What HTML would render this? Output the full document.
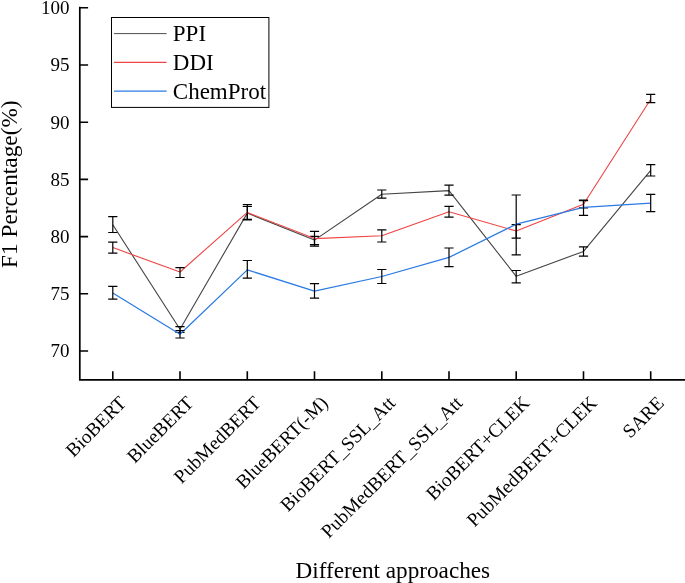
<!DOCTYPE html>
<html><head><meta charset="utf-8"><style>
html,body{margin:0;padding:0;background:#fff;}
svg{display:block;will-change:transform;opacity:0.999;font-family:"Liberation Serif",serif;}
</style></head><body>
<svg width="685" height="583" viewBox="0 0 685 583">
<rect width="685" height="583" fill="#fff"/>

<polyline points="112.8,224.8 180.0,329.2 247.3,213.1 314.5,240.1 381.8,194.3 449.0,190.6 516.2,276.3 583.5,251.4 650.7,170.4" fill="none" stroke="#444444" stroke-width="1.1" stroke-linejoin="round"/>
<path d="M112.8 216.6V232.5M108.2 216.6h9.2M108.2 232.5h9.2M180.0 326.6V332.4M175.4 326.6h9.2M175.4 332.4h9.2M247.3 206.4V219.8M242.7 206.4h9.2M242.7 219.8h9.2M314.5 236.3V244.6M309.9 236.3h9.2M309.9 244.6h9.2M381.8 190.0V198.2M377.2 190.0h9.2M377.2 198.2h9.2M449.0 185.2V195.1M444.4 185.2h9.2M444.4 195.1h9.2M516.2 270.5V282.8M511.6 270.5h9.2M511.6 282.8h9.2M583.5 246.8V256.1M578.9 246.8h9.2M578.9 256.1h9.2M650.7 164.7V176.0M646.1 164.7h9.2M646.1 176.0h9.2" fill="none" stroke="#000" stroke-width="1.2"/>
<polyline points="112.8,247.6 180.0,272.0 247.3,212.4 314.5,238.6 381.8,235.8 449.0,211.8 516.2,231.0 583.5,204.3 650.7,99.2" fill="none" stroke="#ee4444" stroke-width="1.1" stroke-linejoin="round"/>
<path d="M112.8 242.1V253.1M108.2 242.1h9.2M108.2 253.1h9.2M180.0 267.6V277.5M175.4 267.6h9.2M175.4 277.5h9.2M247.3 204.5V219.4M242.7 204.5h9.2M242.7 219.4h9.2M314.5 231.4V246.1M309.9 231.4h9.2M309.9 246.1h9.2M381.8 229.9V242.0M377.2 229.9h9.2M377.2 242.0h9.2M449.0 206.4V217.1M444.4 206.4h9.2M444.4 217.1h9.2M516.2 224.6V238.2M511.6 224.6h9.2M511.6 238.2h9.2M583.5 200.0V207.8M578.9 200.0h9.2M578.9 207.8h9.2M650.7 94.4V102.6M646.1 94.4h9.2M646.1 102.6h9.2" fill="none" stroke="#000" stroke-width="1.2"/>
<polyline points="112.8,293.0 180.0,334.2 247.3,269.9 314.5,291.2 381.8,276.5 449.0,257.4 516.2,224.2 583.5,207.4 650.7,203.1" fill="none" stroke="#2a7ae4" stroke-width="1.25" stroke-linejoin="round"/>
<path d="M112.8 286.3V299.2M108.2 286.3h9.2M108.2 299.2h9.2M180.0 330.5V338.0M175.4 330.5h9.2M175.4 338.0h9.2M247.3 260.5V278.2M242.7 260.5h9.2M242.7 278.2h9.2M314.5 283.7V298.2M309.9 283.7h9.2M309.9 298.2h9.2M381.8 269.5V283.5M377.2 269.5h9.2M377.2 283.5h9.2M449.0 248.0V266.7M444.4 248.0h9.2M444.4 266.7h9.2M516.2 195.0V254.9M511.6 195.0h9.2M511.6 254.9h9.2M583.5 200.6V215.4M578.9 200.6h9.2M578.9 215.4h9.2M650.7 194.4V211.7M646.1 194.4h9.2M646.1 211.7h9.2" fill="none" stroke="#000" stroke-width="1.2"/>
<path d="M79.8 6.8V380.6M79 379.8H685" fill="none" stroke="#000" stroke-width="1.7"/>
<path d="M79.8 351.0h8.3M79.8 293.8h8.3M79.8 236.6h8.3M79.8 179.4h8.3M79.8 122.2h8.3M79.8 65.0h8.3M79.8 7.8h8.3M112.8 379.8v-8.5M180.0 379.8v-8.5M247.3 379.8v-8.5M314.5 379.8v-8.5M381.8 379.8v-8.5M449.0 379.8v-8.5M516.2 379.8v-8.5M583.5 379.8v-8.5M650.7 379.8v-8.5" fill="none" stroke="#000" stroke-width="1.6"/>
<text x="69.5" y="357.3" font-size="19" text-anchor="end">70</text>
<text x="69.5" y="300.1" font-size="19" text-anchor="end">75</text>
<text x="69.5" y="242.9" font-size="19" text-anchor="end">80</text>
<text x="69.5" y="185.7" font-size="19" text-anchor="end">85</text>
<text x="69.5" y="128.5" font-size="19" text-anchor="end">90</text>
<text x="69.5" y="71.3" font-size="19" text-anchor="end">95</text>
<text x="69.5" y="13.6" font-size="19" text-anchor="end">100</text>
<text transform="translate(127.3,404.2) rotate(-45)" font-size="19.3" text-anchor="end">BioBERT</text>
<text transform="translate(194.5,404.2) rotate(-45)" font-size="19.3" text-anchor="end">BlueBERT</text>
<text transform="translate(261.8,404.2) rotate(-45)" font-size="19.3" text-anchor="end">PubMedBERT</text>
<text transform="translate(329.0,404.2) rotate(-45)" font-size="19.3" text-anchor="end">BlueBERT(-M)</text>
<text transform="translate(396.3,404.2) rotate(-45)" font-size="19.3" text-anchor="end">BioBERT_SSL_Att</text>
<text transform="translate(463.5,404.2) rotate(-45)" font-size="19.3" text-anchor="end">PubMedBERT_SSL_Att</text>
<text transform="translate(530.7,404.2) rotate(-45)" font-size="19.3" text-anchor="end">BioBERT+CLEK</text>
<text transform="translate(598.0,404.2) rotate(-45)" font-size="19.3" text-anchor="end">PubMedBERT+CLEK</text>
<text transform="translate(665.2,404.2) rotate(-45)" font-size="19.3" text-anchor="end">SARE</text>
<rect x="111.5" y="17.5" width="157.4" height="89.9" fill="#fff" stroke="#000" stroke-width="1"/>
<path d="M114 33.6H166.6" stroke="#444444" stroke-width="0.95"/>
<text x="172.8" y="41.2" font-size="23">PPI</text>
<path d="M114 62.4H166.6" stroke="#ee4444" stroke-width="1.2"/>
<text x="172.8" y="70.0" font-size="23">DDI</text>
<path d="M114 91.1H166.6" stroke="#2a7ae4" stroke-width="1.4"/>
<text x="172.8" y="98.7" font-size="23">ChemProt</text>
<text x="392.8" y="577.8" font-size="23.2" text-anchor="middle">Different approaches</text>
<text transform="translate(17,184.2) rotate(-90)" font-size="23.3" text-anchor="middle">F1 Percentage(%)</text>
</svg></body></html>
